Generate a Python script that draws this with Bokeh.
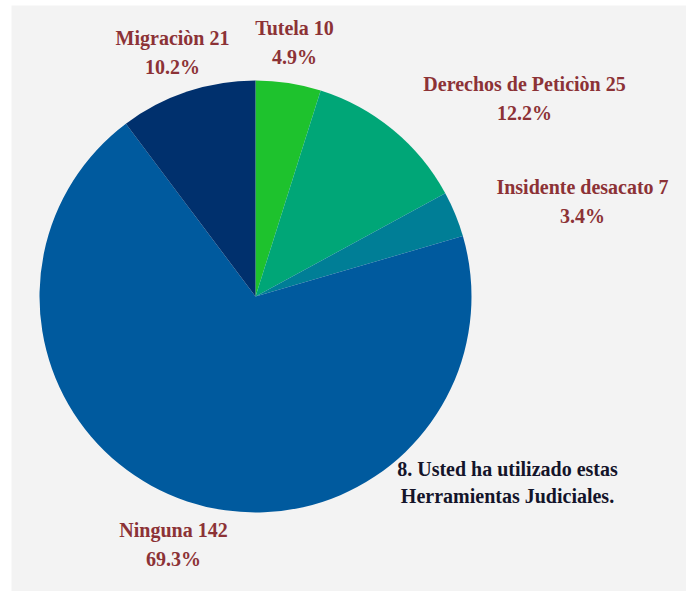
import math
from bokeh.plotting import figure
from bokeh.models import Range1d, ColumnDataSource
from bokeh.core.properties import value
from bokeh.embed import file_html
from bokeh.resources import INLINE

# ---- data (clockwise from 12 o'clock) ----
categories = ["Tutela", "Derechos de Peticiòn", "Insidente desacato", "Ninguna", "Migraciòn"]
counts = [10, 25, 7, 142, 21]
colors = ["#1ec22d", "#00a677", "#007e96", "#005a9e", "#00306d"]
title_lines = ["8. Usted ha utilizado estas", "Herramientas Judiciales."]

# label anchor positions (pixels relative to pie centre, y up)
label_x = [39, 269, 327, -82, -83]
label_y = [269, 213, 110, -233, 259]
title_x = 252
title_y = -172
line_gap = 29

total = sum(counts)
starts, ends = [], []
cum = 0
for c in counts:
    ends.append(math.pi / 2 - cum / total * 2 * math.pi)
    cum += c
    starts.append(math.pi / 2 - cum / total * 2 * math.pi)

src = ColumnDataSource(dict(x=[0] * len(counts), y=[0] * len(counts),
                            start=starts, end=ends, color=colors))

W, H = 686, 591
CX, CY = 255, 296  # pie centre in screen pixels
p = figure(width=W, height=H, output_backend="svg", toolbar_location=None,
           x_range=Range1d(-CX, W - CX), y_range=Range1d(CY - H, CY),
           min_border=0)
p.axis.visible = False
p.grid.visible = False
p.outline_line_color = None
p.background_fill_color = "white"
p.border_fill_color = "white"

# grey panel background
p.quad(left=[11 - CX], right=[W - CX + 5], top=[CY - 5], bottom=[CY - H - 5],
       fill_color="#f3f3f3", line_color=None)

p.wedge(x="x", y="y", radius=216, radius_units="data", start_angle="start",
        end_angle="end", fill_color="color", line_color=None, source=src)

names = [f"{n} {c}" for n, c in zip(categories, counts)]
pcts = [f"{c / total * 100:.1f}%" for c in counts]
lab_color = "#8c3236"
p.text(x=label_x, y=label_y, text=names, text_font=value("Liberation Serif"),
       text_font_style="bold", text_font_size="20px", text_color=lab_color,
       text_align="center", text_baseline="middle")
p.text(x=label_x, y=[y - line_gap for y in label_y], text=pcts,
       text_font=value("Liberation Serif"), text_font_style="bold",
       text_font_size="20px", text_color=lab_color,
       text_align="center", text_baseline="middle")

p.text(x=[title_x, title_x], y=[title_y, title_y - 27], text=title_lines,
       text_font=value("Liberation Serif"), text_font_style="bold",
       text_font_size="20px", text_color="#14142a",
       text_align="center", text_baseline="middle")

open("out.html", "w").write(file_html(p, INLINE))
